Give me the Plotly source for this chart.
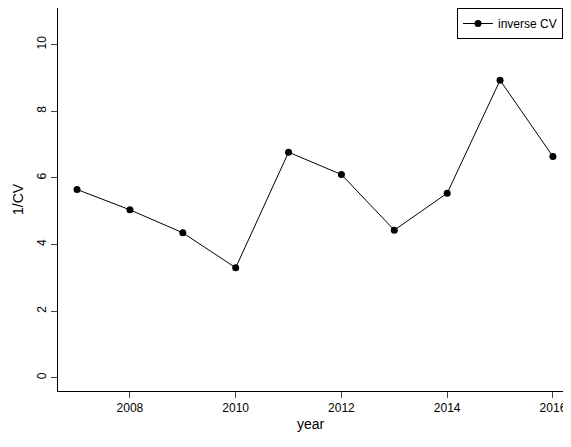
import plotly.graph_objects as go

years = [2007, 2008, 2009, 2010, 2011, 2012, 2013, 2014, 2015, 2016]
inv_cv = [5.65, 5.04, 4.35, 3.30, 6.77, 6.10, 4.43, 5.54, 8.93, 6.64]

fig = go.Figure()
fig.add_trace(go.Scatter(x=years, y=inv_cv, mode="lines+markers", name="inverse CV",
                         line=dict(color="black", width=1),
                         marker=dict(color="black", size=7)))
font = dict(family="Liberation Sans, Arial", size=12, color="black")
fig.update_layout(
    width=555, height=439, margin=dict(l=50, r=0, t=0, b=56, autoexpand=False),
    plot_bgcolor="white", paper_bgcolor="white", font=font,
    showlegend=True,
    legend=dict(x=1, y=1, xanchor="right", yanchor="top", bordercolor="black",
                borderwidth=1, bgcolor="white", font=font),
    xaxis=dict(range=[2006.64, 2016.19], tickvals=[2008, 2010, 2012, 2014, 2016],
               ticks="outside", ticklen=6, showgrid=False, zeroline=False,
               showline=True, linecolor="black", mirror=True, automargin=False,
               ticklabeloverflow="allow",
               title=dict(text="year", standoff=4)),
    yaxis=dict(range=[-0.4, 11.1], tickvals=[0, 2, 4, 6, 8, 10], tickangle=-90,
               ticks="outside", ticklen=6, showgrid=False, zeroline=False,
               showline=True, linecolor="black", mirror=True, automargin=False,
               title=dict(text="1/CV", standoff=8)),
)
fig.write_html("out.html", config={"responsive": False})
